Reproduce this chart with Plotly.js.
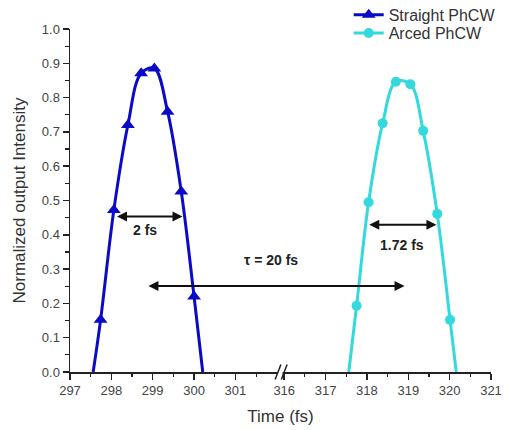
<!DOCTYPE html>
<html>
<head>
<meta charset="utf-8">
<script src="https://cdn.plot.ly/plotly-3.0.1.min.js"></script>
<style>
  html, body { margin: 0; padding: 0; background: #ffffff; }
  #chart { width: 514px; height: 430px; }
</style>
</head>
<body>
<div id="chart"></div>
<script>
// ---- data ----
const straightName = 'Straight PhCW';
const straightX = [297.74, 298.06, 298.40, 298.72, 299.04, 299.36, 299.69, 300.00];
const straightY = [0.152, 0.472, 0.720, 0.871, 0.885, 0.759, 0.526, 0.220];
const straightEdges = [297.56, 300.21];   // where the curve meets 0

const arcedName = 'Arced PhCW';
const arcedX = [317.75, 318.04, 318.38, 318.70, 319.05, 319.36, 319.70, 320.01];
const arcedY = [0.193, 0.495, 0.725, 0.846, 0.839, 0.703, 0.461, 0.152];
const arcedEdges = [317.56, 320.16];

const leftTicks = [297, 298, 299, 300, 301];
const rightTicks = [316, 317, 318, 319, 320, 321];
const yTicks = [0, 0.1, 0.2, 0.3, 0.4, 0.5, 0.6, 0.7, 0.8, 0.9, 1.0];

// ---- broken x axis: 297..301 | 316..321 on one linear axis ----
const breakTo = 316, breakAt = 302.18;
function mapX(v) { return v >= breakTo ? v - breakTo + breakAt : v; }

const blue = '#0a0ac8';
const cyan = '#33d9dc';

function curve(xs, ys, edges, color) {
  return {
    x: [edges[0]].concat(xs, [edges[1]]).map(mapX),
    y: [0].concat(ys, [0]),
    mode: 'lines', type: 'scatter', showlegend: false, hoverinfo: 'skip',
    line: { color: color, width: 3, shape: 'spline', smoothing: 1 }
  };
}
function marks(xs, ys, symbol, size, color) {
  return {
    x: xs.map(mapX), y: ys, mode: 'markers', type: 'scatter', showlegend: false,
    marker: { symbol: symbol, size: size, color: color }
  };
}
function legendItem(name, symbol, size, color, legendId) {
  return {
    x: [null], y: [null], name: name, mode: 'lines+markers', type: 'scatter', legend: legendId,
    line: { color: color, width: 3 }, marker: { symbol: symbol, size: size, color: color }
  };
}

const traces = [
  curve(straightX, straightY, straightEdges, blue),
  marks(straightX, straightY, 'triangle-up', 12, blue),
  curve(arcedX, arcedY, arcedEdges, cyan),
  marks(arcedX, arcedY, 'circle', 10, cyan),
  legendItem(straightName, 'triangle-up', 12, blue, 'legend'),
  legendItem(arcedName, 'circle', 10, cyan, 'legend2')
];

const allTicks = leftTicks.concat(rightTicks);
const minorVals = leftTicks.map(v => v + 0.5).concat(rightTicks.slice(0, -1).map(v => v + 0.5)).map(mapX);

const font = 'Liberation Sans, Arial, sans-serif';

function dblArrow(x0, x1, y) {
  return {
    x: x1, y: y, ax: x0, ay: y, xref: 'x', yref: 'y', axref: 'x', ayref: 'y',
    text: '', showarrow: true, arrowside: 'end+start', arrowhead: 2, startarrowhead: 2,
    arrowsize: 1, startarrowsize: 1, arrowwidth: 2, arrowcolor: '#111', standoff: 0, startstandoff: 0
  };
}
function label(x, y, text) {
  return { x: x, y: y, xref: 'x', yref: 'y', text: text, showarrow: false,
    font: { family: font, size: 14, color: '#222' } };
}
function legendBox(y) {
  return { x: 0.662, y: y, xanchor: 'left', yanchor: 'middle',
    bgcolor: 'rgba(0,0,0,0)', font: { family: font, size: 16, color: '#333' } };
}

const layout = {
  width: 514, height: 430,
  margin: { l: 70, r: 23, t: 29, b: 58, autoexpand: false },
  paper_bgcolor: '#ffffff', plot_bgcolor: '#ffffff',
  showlegend: true,
  legend: legendBox(1.041),
  legend2: legendBox(0.988),
  xaxis: {
    range: [297, mapX(321)], tickmode: 'array', tickvals: allTicks.map(mapX),
    ticktext: allTicks.map(String), showgrid: false, zeroline: false,
    showline: true, linecolor: '#222', linewidth: 1.5,
    ticks: 'outside', ticklen: 6, tickwidth: 1.5, tickcolor: '#222',
    minor: { tickmode: 'array', tickvals: minorVals, ticks: 'outside', ticklen: 3.5, tickwidth: 1.2, tickcolor: '#222', showgrid: false },
    tickfont: { family: font, size: 13, color: '#444' },
    title: { text: 'Time (fs)', font: { family: font, size: 17, color: '#333' }, standoff: 13 },
    fixedrange: true
  },
  yaxis: {
    range: [0, 1], tickmode: 'array', tickvals: yTicks, ticktext: yTicks.map(v => v.toFixed(1)),
    showgrid: false, zeroline: false,
    showline: true, linecolor: '#222', linewidth: 1.5,
    ticks: 'outside', ticklen: 6, tickwidth: 1.5, tickcolor: '#222',
    minor: { dtick: 0.05, ticks: 'outside', ticklen: 3.5, tickwidth: 1.2, tickcolor: '#222', showgrid: false },
    tickfont: { family: font, size: 13, color: '#444' },
    title: { text: 'Normalized output Intensity', font: { family: font, size: 17, color: '#333' }, standoff: 12 },
    fixedrange: true
  },
  shapes: [
    { type: 'rect', xref: 'x', yref: 'paper', x0: mapX(301) + 1.03, x1: mapX(301) + 1.14, y0: -0.01, y1: 0.01,
      fillcolor: '#ffffff', line: { width: 0 }, layer: 'above' },
    { type: 'line', xref: 'x', yref: 'paper', x0: 301.96, x1: 302.1, y0: -0.022, y1: 0.022,
      line: { color: '#222', width: 1.5 }, layer: 'above' },
    { type: 'line', xref: 'x', yref: 'paper', x0: 302.11, x1: 302.25, y0: -0.022, y1: 0.022,
      line: { color: '#222', width: 1.5 }, layer: 'above' }
  ],
  annotations: [
    dblArrow(298.10, 299.72, 0.453),
    label(298.82, 0.415, '<b>2 fs</b>'),
    dblArrow(mapX(318.02), mapX(319.68), 0.429),
    label(mapX(318.84), 0.37, '<b>1.72 fs</b>'),
    dblArrow(298.86, mapX(318.91), 0.251),
    label(301.85, 0.327, '<b>τ = 20 fs</b>')
  ]
};

Plotly.newPlot('chart', traces, layout, { staticPlot: true, displayModeBar: false });
</script>
</body>
</html>
